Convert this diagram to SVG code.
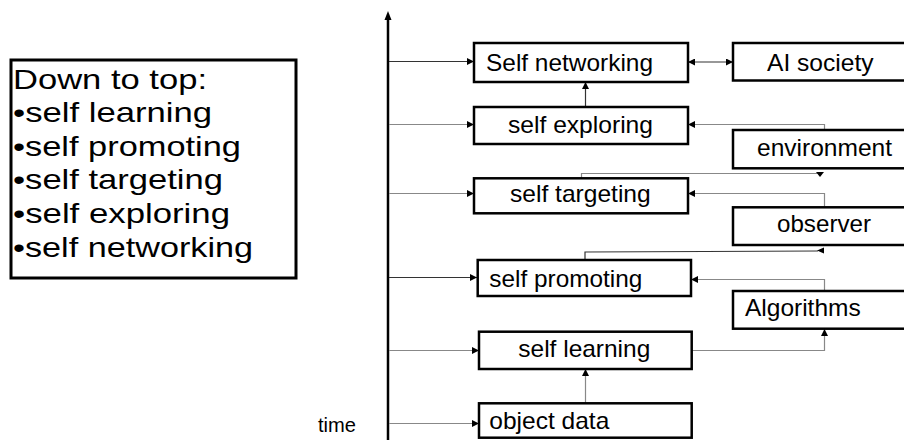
<svg xmlns="http://www.w3.org/2000/svg" width="904" height="440" viewBox="0 0 904 440">
<style>
.box{fill:#fff;stroke:#000;stroke-width:2.5}
.t{font-family:"Liberation Sans",Arial,sans-serif;fill:#000}
.bt{font-size:24px}
.lt{font-size:28px}
.c{fill:none;stroke-width:1.2}
.dk{stroke:#333}
.gr{stroke:#888}
</style>
<defs>
<marker id="ah" viewBox="0 0 10 10" refX="10" refY="5" markerWidth="7" markerHeight="7" markerUnits="userSpaceOnUse" orient="auto-start-reverse">
<path d="M0,0 L10,5 L0,10 z" fill="#000"/>
</marker>
</defs>
<g id="legend">
<rect x="11" y="60" width="285" height="218" fill="#fff" stroke="#000" stroke-width="3"/>
<text class="t lt" x="13" y="89" textLength="194" lengthAdjust="spacingAndGlyphs">Down to top:</text>
<text class="t lt" x="13" y="122" textLength="199" lengthAdjust="spacingAndGlyphs">•self learning</text>
<text class="t lt" x="13" y="155.5" textLength="228" lengthAdjust="spacingAndGlyphs">•self promoting</text>
<text class="t lt" x="13" y="189" textLength="210" lengthAdjust="spacingAndGlyphs">•self targeting</text>
<text class="t lt" x="13" y="223" textLength="217" lengthAdjust="spacingAndGlyphs">•self exploring</text>
<text class="t lt" x="13" y="257" textLength="240" lengthAdjust="spacingAndGlyphs">•self networking</text>
</g>
<g id="axis">
<line x1="388" y1="440" x2="388" y2="18" stroke="#000" stroke-width="2.5"/>
<path d="M388,11 L384.5,20 L391.5,20 z" fill="#000"/>
<text class="t" x="318" y="432" font-size="20" textLength="38" lengthAdjust="spacingAndGlyphs">time</text>
</g>
<g id="connectors">
<line class="c dk" x1="389" y1="61.5" x2="474" y2="61.5" marker-end="url(#ah)"/>
<line class="c gr" x1="389" y1="124.5" x2="474" y2="124.5" marker-end="url(#ah)"/>
<line class="c gr" x1="389" y1="193.5" x2="474" y2="193.5" marker-end="url(#ah)"/>
<line class="c dk" x1="389" y1="277.5" x2="477" y2="277.5" marker-end="url(#ah)"/>
<line class="c gr" x1="389" y1="350.5" x2="479" y2="350.5" marker-end="url(#ah)"/>
<line class="c gr" x1="389" y1="423.5" x2="479" y2="423.5" marker-end="url(#ah)"/>
<line class="c dk" x1="585.5" y1="107" x2="585.5" y2="82" marker-end="url(#ah)"/>
<line class="c gr" x1="585.5" y1="403" x2="585.5" y2="369" marker-end="url(#ah)"/>
<line class="c dk" x1="688" y1="62" x2="733" y2="62" marker-start="url(#ah)" marker-end="url(#ah)"/>
<polyline class="c gr" points="824.5,130 824.5,124.5 688,124.5" marker-end="url(#ah)"/>
<polyline class="c gr" points="581.5,178 581.5,173.5 820,173.5"/>
<path d="M816,172 L824,172 L820,177 z" fill="#000"/>
<polyline class="c gr" points="824.5,207 824.5,193.5 688,193.5" marker-end="url(#ah)"/>
<polyline class="c dk" points="585,260 585,252 818,251"/>
<path d="M817,250.5 L824,247.5 L824,253.5 z" fill="#000"/>
<polyline class="c gr" points="824.5,291 824.5,279.5 691,279.5" marker-end="url(#ah)"/>
<polyline class="c gr" points="691.5,350.5 824.5,350.5 824.5,329" marker-end="url(#ah)"/>
</g>
<g id="self-networking">
<rect class="box" x="474" y="43" width="214" height="39"/>
<text class="t bt" x="486" y="71" textLength="167" lengthAdjust="spacingAndGlyphs">Self networking</text>
</g>
<g id="ai-society">
<rect class="box" x="733" y="43" width="180" height="37.5"/>
<text class="t bt" x="767" y="71" textLength="106.5" lengthAdjust="spacingAndGlyphs">AI society</text>
</g>
<g id="self-exploring">
<rect class="box" x="474" y="107" width="214" height="37"/>
<text class="t bt" x="508" y="133" textLength="145" lengthAdjust="spacingAndGlyphs">self exploring</text>
</g>
<g id="environment">
<rect class="box" x="733" y="130" width="180" height="38.3"/>
<text class="t bt" x="757" y="155.5" textLength="135" lengthAdjust="spacingAndGlyphs">environment</text>
</g>
<g id="self-targeting">
<rect class="box" x="474" y="178.3" width="214" height="35"/>
<text class="t bt" x="510" y="202" textLength="140.7" lengthAdjust="spacingAndGlyphs">self targeting</text>
</g>
<g id="observer">
<rect class="box" x="733" y="207.3" width="180" height="37.7"/>
<text class="t bt" x="777" y="232" textLength="94" lengthAdjust="spacingAndGlyphs">observer</text>
</g>
<g id="self-promoting">
<rect class="box" x="477.7" y="260" width="213.3" height="36"/>
<text class="t bt" x="489.3" y="286.7" textLength="153" lengthAdjust="spacingAndGlyphs">self promoting</text>
</g>
<g id="algorithms">
<rect class="box" x="733" y="291" width="180" height="37.7"/>
<text class="t bt" x="745" y="316" textLength="115.7" lengthAdjust="spacingAndGlyphs">Algorithms</text>
</g>
<g id="self-learning">
<rect class="box" x="479" y="331.7" width="212.7" height="37.3"/>
<text class="t bt" x="518.3" y="357" textLength="132" lengthAdjust="spacingAndGlyphs">self learning</text>
</g>
<g id="object-data">
<rect class="box" x="479" y="403.3" width="212.7" height="34.4"/>
<text class="t bt" x="489.3" y="428.5" textLength="120" lengthAdjust="spacingAndGlyphs">object data</text>
</g>
</svg>
